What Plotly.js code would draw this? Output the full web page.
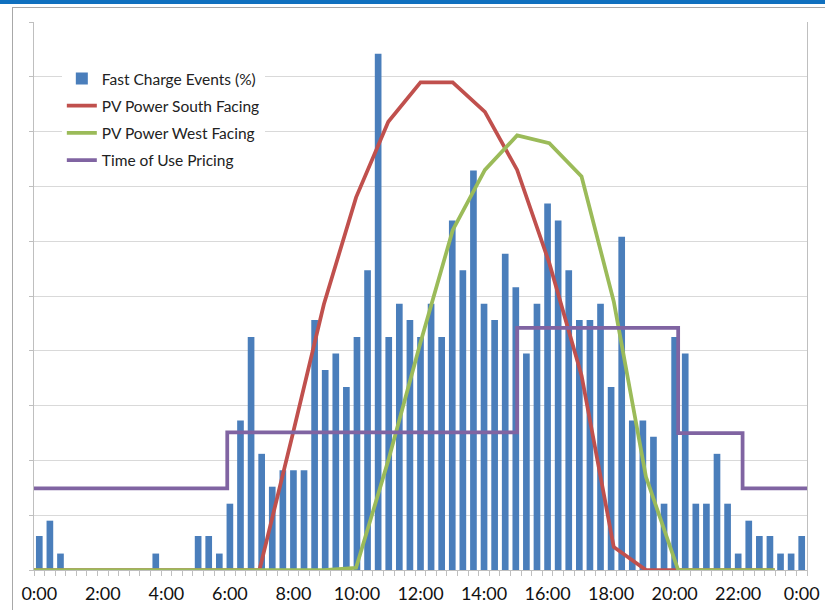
<!DOCTYPE html>
<html><head><meta charset="utf-8">
<script src="https://cdn.plot.ly/plotly-3.0.1.min.js"></script>
<style>
html,body{margin:0;padding:0;background:#fff;}
#wrap{position:relative;width:825px;height:610px;overflow:hidden;background:#fff;}
#chart{position:absolute;left:0;top:0;width:825px;height:610px;}
#band{position:absolute;left:0;top:0;width:825px;height:4px;background:#1070bf;}
#frame{position:absolute;left:12px;top:7px;width:830px;height:620px;border-left:1.5px solid #a8a8a8;border-top:1.5px solid #a8a8a8;pointer-events:none;}
</style></head>
<body><div id="wrap"><div id="chart"></div><div id="frame"></div><div id="band"></div></div>
<script>
// 20-minute time slots (categories)
const timeSlots = ["0:00","0:20","0:40","1:00","1:20","1:40","2:00","2:20","2:40","3:00","3:20","3:40",
  "4:00","4:20","4:40","5:00","5:20","5:40","6:00","6:20","6:40","7:00","7:20","7:40",
  "8:00","8:20","8:40","9:00","9:20","9:40","10:00","10:20","10:40","11:00","11:20","11:40",
  "12:00","12:20","12:40","13:00","13:20","13:40","14:00","14:20","14:40","15:00","15:20","15:40",
  "16:00","16:20","16:40","17:00","17:20","17:40","18:00","18:20","18:40","19:00","19:20","19:40",
  "20:00","20:20","20:40","21:00","21:20","21:40","22:00","22:20","22:40","23:00","23:20","23:40","24:00"];
// Fast charge events (%) per slot
const chargeEvents = [0.62,0.9,0.3,0,0,0,0,0,0,0,0,0.3,
  0,0,0,0.62,0.62,0.3,1.21,2.73,4.25,2.12,1.52,1.82,
  1.82,1.82,4.56,3.65,3.95,3.34,4.25,5.47,9.42,4.25,4.86,4.56,
  4.25,4.86,4.25,6.38,5.47,7.29,4.86,4.56,5.77,5.16,3.95,4.86,
  6.69,6.38,5.47,4.56,4.56,4.86,3.34,6.08,2.73,2.73,2.43,1.21,
  4.25,3.95,1.21,1.21,2.12,1.21,0.3,0.9,0.62,0.62,0.3,0.3,0.62];
// hourly PV curves
const pvHours = [0,1,2,3,4,5,6,7,8,9,10,11,12,13,14,15,16,17,18,19,20,21,22,23];
const pvSouth = [0,0,0,0,0,0,0,0,2.4,4.85,6.8,8.18,8.9,8.9,8.36,7.3,5.6,3.55,0.42,0,0,0,0,0];
const pvWest  = [0,0,0,0,0,0,0,0,0,0,0.04,2.0,4.15,6.2,7.3,7.93,7.79,7.18,4.9,1.7,0,0,0,0];
// time of use pricing steps
const touHours = [0,6,15,20,22,24];
const touPrice = [1.49,2.51,4.42,2.5,1.49,1.49];
// x-axis tick labels (every 2 hours)
const tickLabels = ["0:00","2:00","4:00","6:00","8:00","10:00","12:00","14:00","16:00","18:00","20:00","22:00","0:00"];

const tickText = timeSlots.map((t,i)=> i%6===0 ? tickLabels[i/6] : "");

const traces = [
  {type:'bar', name:'Fast Charge Events (%)', x:timeSlots, y:chargeEvents, legendgroup:'a',
   marker:{color:'#4a7ebb'}, xaxis:'x', yaxis:'y'},
  {type:'scatter', mode:'lines', name:'PV Power South Facing', x:pvHours, y:pvSouth, legendgroup:'b',
   line:{color:'#c0504d', width:3.75}, xaxis:'x2', yaxis:'y'},
  {type:'scatter', mode:'lines', name:'PV Power West Facing', x:pvHours, y:pvWest, legendgroup:'c',
   line:{color:'#9bbb59', width:3.75}, xaxis:'x2', yaxis:'y'},
  {type:'scatter', mode:'lines', name:'Time of Use Pricing', x:touHours, y:touPrice, legendgroup:'d',
   line:{color:'#8064a2', width:3.75, shape:'hv'}, xaxis:'x2', yaxis:'y'}
];

const layout = {
  width:825, height:610,
  margin:{l:34, r:18, t:22, b:40},
  paper_bgcolor:'rgba(0,0,0,0)', plot_bgcolor:'#fff',
  font:{family:'Lato, "Open Sans", sans-serif', color:'#1a1a1a'},
  bargap:0.37,
  showlegend:true,
  legend:{x:0.036, y:0.927, xanchor:'left', yanchor:'top', bgcolor:'#fff',
    font:{family:'Lato, sans-serif', size:15.5, color:'#222'},
    traceorder:'grouped', tracegroupgap:4, itemwidth:30},
  xaxis:{type:'category', tickmode:'array', tickvals:timeSlots, ticktext:tickText,
    tickson:'boundaries', ticks:'outside', ticklen:5, tickcolor:'#bfbfbf', tickwidth:1,
    ticklabelstandoff:7,
    showgrid:false, showline:true, linecolor:'#bfbfbf', linewidth:1, zeroline:false,
    range:[-0.5,72.5], tickangle:0,
    tickfont:{family:'Lato, sans-serif', size:18, color:'#111'}},
  xaxis2:{overlaying:'x', anchor:'y', range:[0,24], visible:false, showgrid:false, zeroline:false},
  yaxis:{range:[0,10], dtick:1, tick0:0, showticklabels:false, showgrid:true,
    gridcolor:'#d9d9d9', gridwidth:1, ticks:'outside', ticklen:4, tickcolor:'#bfbfbf',
    showline:true, mirror:true, linecolor:'#bfbfbf', linewidth:1, zeroline:false}
};

Plotly.newPlot('chart', traces, layout, {displayModeBar:false, staticPlot:true});
</script>
</body></html>
